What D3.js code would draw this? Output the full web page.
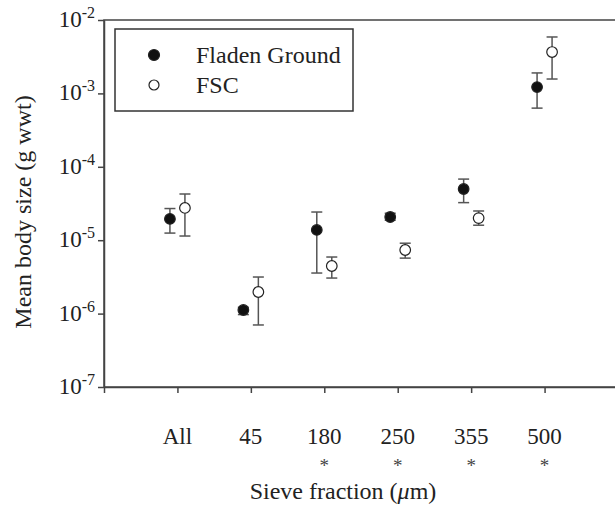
<!DOCTYPE html>
<html>
<head>
<meta charset="utf-8">
<script src="https://cdn.jsdelivr.net/npm/d3@7"></script>
<style>
  body { margin: 0; background: #fff; }
  svg text { font-family: "Liberation Serif", "Times New Roman", serif; fill: #222; }
</style>
</head>
<body>
<svg id="chart" width="615" height="506"></svg>
<script>
let categories = ["All", "45", "180", "250", "355", "500"];
let significant = [false, false, true, true, true, true];

let fladenMean = [1.95e-5, 1.12e-6, 1.38e-5, 2.07e-5, 4.98e-5, 1.22e-3];
let fladenLo   = [1.25e-5, 9.7e-7, 3.57e-6, 1.87e-5, 3.25e-5, 6.3e-4];
let fladenHi   = [2.7e-5, 1.22e-6, 2.42e-5, 2.33e-5, 6.8e-5, 1.9e-3];

let fscMean = [2.75e-5, 1.97e-6, 4.45e-6, 7.35e-6, 2.0e-5, 3.66e-3];
let fscLo   = [1.14e-5, 7.0e-7, 3.05e-6, 5.7e-6, 1.6e-5, 1.57e-3];
let fscHi   = [4.26e-5, 3.15e-6, 5.9e-6, 9.1e-6, 2.5e-5, 5.87e-3];

let yTicks = [1e-7, 1e-6, 1e-5, 1e-4, 1e-3, 1e-2];

let plotLeft = 104, plotRight = 618, plotTop = 20, plotBottom = 387;
let offset = 7.5;
let axisColor = "#444";
let serif = "'Liberation Serif', 'Times New Roman', serif";

let svg = d3.select("#chart");

let x = d3.scaleLinear().domain([0, 7]).range([plotLeft, plotRight]);
let y = d3.scaleLog().domain([1e-7, 1e-2]).range([plotBottom, plotTop]);

// frame (top + right)
svg.append("rect")
    .attr("x", plotLeft).attr("y", plotTop)
    .attr("width", plotRight - plotLeft).attr("height", plotBottom - plotTop)
    .attr("fill", "none")
    .attr("stroke", axisColor)
    .attr("stroke-width", 1.5);

// y axis
let yAxis = svg.append("g")
    .attr("transform", `translate(${plotLeft},0)`)
    .call(d3.axisLeft(y).tickValues(yTicks).tickSize(6).tickSizeOuter(0).tickFormat(""));
yAxis.selectAll("path, line").attr("stroke", axisColor).attr("stroke-width", 1.5);

svg.append("g")
    .attr("font-family", serif)
    .selectAll("text")
    .data(yTicks)
    .join("text")
    .attr("x", 95)
    .attr("y", d => y(d) + 7)
    .attr("text-anchor", "end")
    .style("font-size", "23px")
    .each(function(d) {
        let t = d3.select(this);
        t.append("tspan").text("10");
        t.append("tspan")
            .attr("dy", -9)
            .style("font-size", "16px")
            .text(Math.round(Math.log10(d)));
    });

// x axis
let xAxis = svg.append("g")
    .attr("transform", `translate(0,${plotBottom})`)
    .call(d3.axisBottom(x).tickValues(d3.range(0, 7)).tickSize(6).tickSizeOuter(0).tickFormat(""));
xAxis.selectAll("path, line").attr("stroke", axisColor).attr("stroke-width", 1.5);

svg.append("g")
    .attr("font-family", serif)
    .selectAll("text")
    .data(categories)
    .join("text")
    .attr("x", (d, i) => x(i + 1))
    .attr("y", 444)
    .attr("text-anchor", "middle")
    .style("font-size", "23px")
    .text(d => d);

// significance markers
svg.append("g")
    .attr("font-family", serif)
    .selectAll("text")
    .data(categories.filter((d, i) => significant[i]))
    .join("text")
    .attr("x", d => x(categories.indexOf(d) + 1))
    .attr("y", 472)
    .attr("text-anchor", "middle")
    .style("font-size", "19px")
    .style("fill", "#444")
    .text("*");

// axis titles
let xt = svg.append("text")
    .attr("x", 343)
    .attr("y", 499)
    .attr("text-anchor", "middle")
    .style("font-size", "24px");
xt.append("tspan").text("Sieve fraction (");
xt.append("tspan").style("font-style", "italic").text("\u03bc");
xt.append("tspan").text("m)");

svg.append("text")
    .attr("transform", "translate(31,212) rotate(-90)")
    .attr("text-anchor", "middle")
    .style("font-size", "24px")
    .text("Mean body size (g wwt)");

// series
let series = [
    { name: "Fladen Ground", mean: fladenMean, lo: fladenLo, hi: fladenHi, dx: -offset, fill: "#111" },
    { name: "FSC", mean: fscMean, lo: fscLo, hi: fscHi, dx: offset, fill: "#fff" }
];

series.forEach(function(s) {
    let pts = categories.map((c, i) => ({ i: i, m: s.mean[i], lo: s.lo[i], hi: s.hi[i] }));
    let g = svg.append("g");

    g.selectAll(".eb")
        .data(pts)
        .join("line")
        .attr("class", "eb")
        .attr("x1", d => x(d.i + 1) + s.dx)
        .attr("x2", d => x(d.i + 1) + s.dx)
        .attr("y1", d => y(d.lo))
        .attr("y2", d => y(d.hi))
        .attr("stroke", "#555")
        .attr("stroke-width", 1.5);

    ["lo", "hi"].forEach(function(k) {
        g.selectAll(".cap-" + k)
            .data(pts)
            .join("line")
            .attr("class", "cap-" + k)
            .attr("x1", d => x(d.i + 1) + s.dx - 5.5)
            .attr("x2", d => x(d.i + 1) + s.dx + 5.5)
            .attr("y1", d => y(d[k]))
            .attr("y2", d => y(d[k]))
            .attr("stroke", "#555")
            .attr("stroke-width", 1.5);
    });

    g.selectAll("circle")
        .data(pts)
        .join("circle")
        .attr("cx", d => x(d.i + 1) + s.dx)
        .attr("cy", d => y(d.m))
        .attr("r", 5.3)
        .attr("fill", s.fill)
        .attr("stroke", "#222")
        .attr("stroke-width", 1.2);
});

// legend
let legend = svg.append("g");
legend.append("rect")
    .attr("x", 115).attr("y", 29)
    .attr("width", 238).attr("height", 82)
    .attr("fill", "#fff")
    .attr("stroke", "#333")
    .attr("stroke-width", 1.5);

legend.selectAll("circle")
    .data(series)
    .join("circle")
    .attr("cx", 154)
    .attr("cy", (d, i) => 55 + i * 30)
    .attr("r", (d, i) => i == 0 ? 5.5 : 5)
    .attr("fill", d => d.fill)
    .attr("stroke", "#222")
    .attr("stroke-width", 1.2);

legend.selectAll("text")
    .data(series)
    .join("text")
    .attr("x", 196)
    .attr("y", (d, i) => 63 + i * 30)
    .style("font-size", "24px")
    .text(d => d.name);
</script>
</body>
</html>
